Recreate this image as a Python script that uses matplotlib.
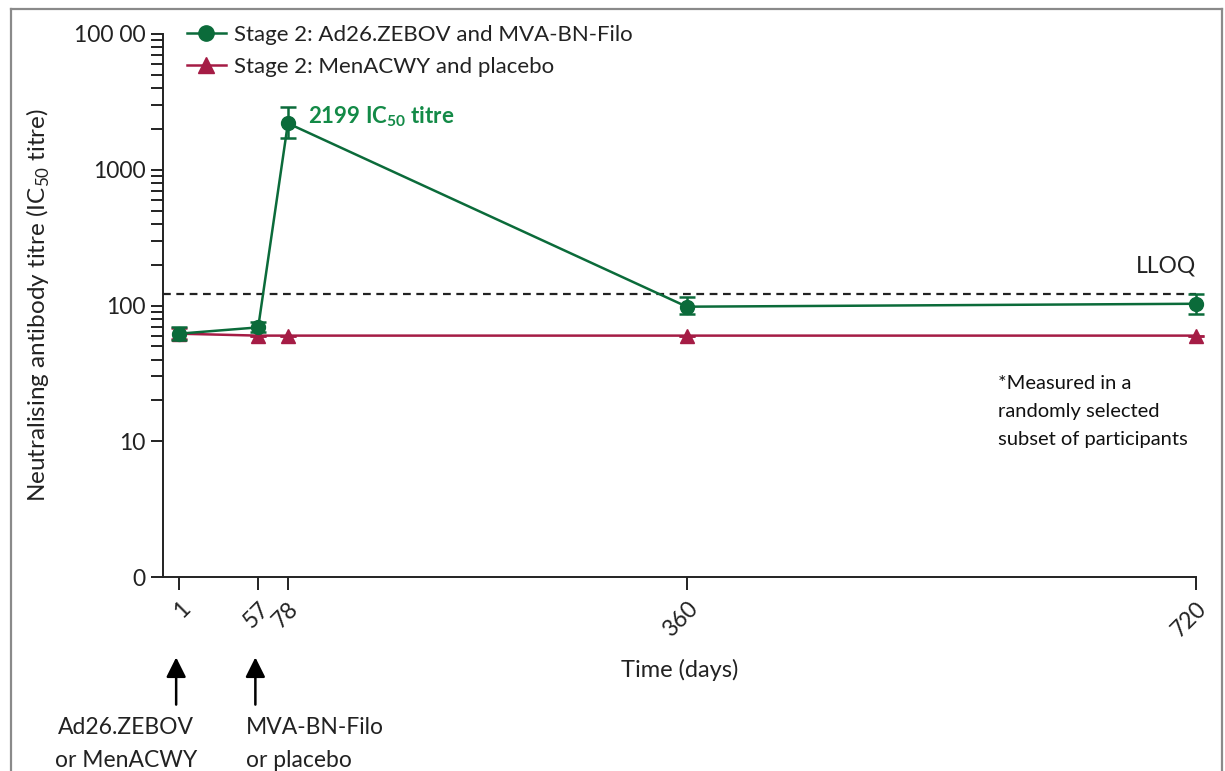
import numpy as np
import matplotlib.pyplot as plt
from matplotlib.lines import Line2D
from matplotlib.ticker import FixedLocator, NullFormatter

plt.rcParams['font.family'] = ['Lato', 'DejaVu Sans']
plt.rcParams['mathtext.fontset'] = 'custom'
plt.rcParams['mathtext.rm'] = 'Lato'
plt.rcParams['mathtext.bf'] = 'Lato:bold'

days = [1, 57, 78, 360, 720]
vacc = [62, 69, 2199, 98, 103]
vacc_lo = [56, 64, 1700, 86, 86]
vacc_hi = [69, 75, 2880, 115, 122]
plac_days = [1, 57, 78, 360, 720]
plac = [62, 60, 60, 60, 60]
plac_lo = [57, 60, 60, 60, 60]
plac_hi = [68, 60, 60, 60, 60]
lloq = 122

xticks = [1, 57, 78, 360, 720]
yticks = [1, 10, 100, 1000, 10000]
ytick_labels = ["0", "10", "100", "1000", "100 00"]
yminor = [m * d for d in (10, 100, 1000) for m in range(2, 10)]

GREEN = "#0b6b3a"
RED = "#a51c45"
W, H = 1225, 771

fig = plt.figure(figsize=(W / 100, H / 100), dpi=100)
ax = fig.add_axes([163 / W, 1 - 577 / H, (1196 - 163) / W, (577 - 34) / H])

vlo = np.array(vacc) - np.array(vacc_lo)
vhi = np.array(vacc_hi) - np.array(vacc)
plo = np.array(plac) - np.array(plac_lo)
phi = np.array(plac_hi) - np.array(plac)

ax.errorbar(plac_days, plac, yerr=[plo, phi], color=RED, lw=1.8, marker="^",
            ms=9.5, capsize=6, capthick=1.8, elinewidth=1.8, clip_on=False, zorder=3)
ax.errorbar(days, vacc, yerr=[vlo, vhi], color=GREEN, lw=1.8, marker="o",
            ms=10, capsize=6, capthick=1.8, elinewidth=1.8, clip_on=False, zorder=4)
ax.axhline(lloq, color="#222222", lw=1.6, ls=(0, (3.5, 2.5)), zorder=2)

ax.set_yscale("log")
ax.set_ylim(1, 10000)
ax.set_xlim(-10.3, 720)
ax.yaxis.set_major_locator(FixedLocator(yticks))
ax.set_yticklabels(ytick_labels)
ax.yaxis.set_minor_locator(FixedLocator(yminor))
ax.yaxis.set_minor_formatter(NullFormatter())
ax.set_xticks(xticks)
ax.set_xticklabels([str(d) for d in xticks], rotation=45, ha="right",
                   rotation_mode="anchor")
ax.tick_params(axis="both", which="both", direction="out", length=9, width=1.4,
               labelsize=16.5, color="#222222", labelcolor="#222222")
ax.tick_params(axis="x", pad=6)
for s in ("top", "right"):
    ax.spines[s].set_visible(False)
for s in ("left", "bottom"):
    ax.spines[s].set_linewidth(1.4)
    ax.spines[s].set_color("#222222")

ax.set_ylabel("Neutralising antibody titre (IC$_{50}$ titre)", fontsize=17.5,
              color="#222222", labelpad=16)
ax.set_xlabel("Time (days)", fontsize=17, color="#222222", labelpad=13)

handles = [Line2D([], [], color=GREEN, marker="o", ms=11, lw=1.8),
           Line2D([], [], color=RED, marker="^", ms=11, lw=1.8)]
labels = ["Stage 2: Ad26.ZEBOV and MVA-BN-Filo", "Stage 2: MenACWY and placebo"]
fig.legend(handles, labels, loc="upper left",
           bbox_to_anchor=(187 / W, 1 - 25 / H), frameon=False, borderpad=0,
           borderaxespad=0, fontsize=16, handlelength=1.75, handletextpad=0.36,
           labelspacing=0.55, labelcolor="#222222")

ax.text(78 + 14, 2199 * 1.12, "2199 IC$_{\\mathbf{50}}$ titre", color="#138a47",
        fontsize=16, fontweight="bold", va="center", ha="left")
ax.text(720, lloq * 1.6, "LLOQ", fontsize=16.5, color="#222222", ha="right",
        va="center")
fig.text(998 / W, 1 - 375 / H, "*Measured in a\nrandomly selected\nsubset of participants",
         fontsize=14.5, color="#111111", ha="left", va="top", linespacing=1.78)

for x in (1, 57):
    ax.annotate("", xy=(x - 2, -0.148), xytext=(x - 2, -0.235),
                xycoords=ax.get_xaxis_transform(), textcoords=ax.get_xaxis_transform(),
                arrowprops=dict(arrowstyle="-|>,head_length=0.6,head_width=0.3",
                                color="black", lw=1.8, mutation_scale=20,
                                shrinkA=0, shrinkB=0), annotation_clip=False)
fig.text(126 / W, 1 - 717 / H, "Ad26.ZEBOV\nor MenACWY", fontsize=16.5, ha="center",
         va="top", color="#222222", linespacing=1.72)
fig.text(246 / W, 1 - 717 / H, "MVA-BN-Filo\nor placebo", fontsize=16.5, ha="left",
         va="top", color="#222222", linespacing=1.72)

border_color = "#8a8a8a"
fig.add_artist(Line2D([11 / W, 11 / W], [0, 1 - 9 / H], color=border_color, lw=1.6))
fig.add_artist(Line2D([11 / W, 1222 / W], [1 - 9 / H, 1 - 9 / H], color=border_color, lw=1.6))
fig.add_artist(Line2D([1222 / W, 1222 / W], [0, 1 - 9 / H], color=border_color, lw=1.6))

fig.savefig("out.png", dpi=100)
